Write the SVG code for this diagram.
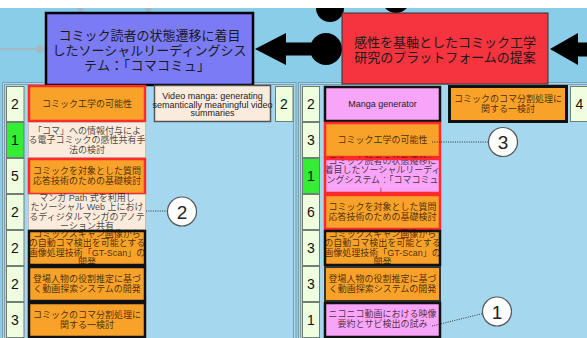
<svg xmlns="http://www.w3.org/2000/svg" width="587" height="338" viewBox="0 0 587 338">
<defs>
<style>
.ttl{font-family:"Noto Sans CJK JP",sans-serif;font-size:13px;fill:#1a1a1a;text-anchor:middle;dominant-baseline:central}
.ct{font-family:"Liberation Sans","Noto Sans CJK JP",sans-serif;font-size:9px;fill:#000;fill-opacity:.72;text-anchor:middle;dominant-baseline:central}
.lt{font-family:"Liberation Sans",sans-serif;font-size:9px;fill:#222;text-anchor:middle;dominant-baseline:central}
.num{font-family:"Liberation Sans",sans-serif;font-size:14px;fill:#111;text-anchor:middle;dominant-baseline:central}
.nc{fill:#effedf;stroke:#6f7f77;stroke-width:1}
.ng{fill:#33ee33;stroke:#6f7f77;stroke-width:1}
.or{fill:#f8a22a}
.pk{fill:#f8a4f8}
.bg{fill:#faebdc;stroke:#c9bfb5;stroke-width:1}
.rb{stroke:#ff2a2a;stroke-width:2.5}
.kb{stroke:#111;stroke-width:2.5}
.db{stroke:#333;stroke-width:2}
.panel{fill:#a5d7ee;stroke:#7d9fb0;stroke-width:1}
.co circle{fill:#fff;stroke:#555;stroke-width:1.2}
.co text{font-family:"Liberation Sans",sans-serif;font-size:19px;fill:#222;text-anchor:middle;dominant-baseline:central}
.dot{stroke:#333;stroke-width:1;stroke-dasharray:1 1.3;fill:none}
</style>
<clipPath id="top"><rect x="0" y="8" width="587" height="330"/></clipPath>
</defs>
<rect x="0" y="0" width="587" height="338" fill="#fff"/>
<rect x="0" y="8" width="587" height="330" fill="#89cde9"/>

<!-- panels -->
<g id="panel-left">
<rect class="panel" x="2.5" y="82.5" width="293.5" height="262"/>
<rect class="panel" x="4.5" y="84.5" width="289" height="260" fill="none"/>
</g>
<g id="panel-right">
<rect class="panel" x="298.5" y="82.5" width="300" height="262"/>
<rect class="panel" x="300.5" y="84.5" width="300" height="260" fill="none"/>
</g>

<!-- connectors -->
<g id="connectors">
<g clip-path="url(#top)">
<circle cx="330" cy="8" r="14" fill="#000"/>
<circle cx="396" cy="-1" r="14" fill="#000"/>
<path d="M77 8 h7 l-2 4 h-3 z M145 8 h7 l-2 4 h-3 z" fill="#9fb5c0"/>
</g>
<line x1="0" y1="49" x2="40" y2="49" stroke="#a3b8c2" stroke-width="2"/>
<circle cx="40" cy="49" r="4" fill="#a3b8c2"/>
<circle cx="326" cy="49" r="16" fill="#000"/>
<rect x="283" y="42.5" width="45" height="13" fill="#000"/>
<polygon points="255,49 286,33 286,65" fill="#000"/>
<rect x="575" y="42.5" width="14" height="14" fill="#000"/>
<polygon points="550,49 578,33 578,65" fill="#000"/>
</g>

<g id="node-komacomu">
<rect x="46" y="13" width="207" height="72" fill="#7b7bf6" stroke="#000" stroke-width="2.5"/>
<text class="ttl" x="149.5" y="34.5">コミック読者の状態遷移に着目</text>
<text class="ttl" x="149.5" y="49.5">したソーシャルリーディングシス</text>
<text class="ttl" x="147" y="64.5" textLength="126" lengthAdjust="spacing">テム：「コマコミュ」</text>
</g>
<g id="node-platform">
<rect x="342" y="13" width="206" height="71" fill="#f5343f" stroke="#333" stroke-width="1"/>
<text class="ttl" x="445" y="41">感性を基軸としたコミック工学</text>
<text class="ttl" x="445" y="56">研究のプラットフォームの提案</text>
</g>

<!-- left panel rows -->
<g id="L-count"><rect class="nc" x="6.5" y="86.5" width="17.5" height="35"/><text class="num" x="15" y="104">2</text>
<rect class="ng" x="6.5" y="122.5" width="17.5" height="35"/><text class="num" x="15" y="140">1</text>
<rect class="nc" x="6.5" y="158.5" width="17.5" height="35"/><text class="num" x="15" y="176">5</text>
<rect class="nc" x="6.5" y="194.5" width="17.5" height="35"/><text class="num" x="15" y="212">2</text>
<rect class="nc" x="6.5" y="230.5" width="17.5" height="35"/><text class="num" x="15" y="248">2</text>
<rect class="nc" x="6.5" y="266.5" width="17.5" height="35"/><text class="num" x="15" y="284">2</text>
<rect class="nc" x="6.5" y="302.5" width="17.5" height="35"/><text class="num" x="15" y="320">3</text></g>

<g id="L1"><rect class="or rb" x="29" y="86" width="116" height="35"/><text class="ct" x="87" y="104">コミック工学の可能性</text></g>
<g id="L2"><rect class="bg" x="28.5" y="122.5" width="117" height="35"/>
<text class="ct" x="87" y="130.5">「コマ」への情報付与によ</text><text class="ct" x="87" y="140.3">る電子コミックの感性共有手</text><text class="ct" x="87" y="150">法の検討</text></g>
<g id="L3"><rect class="or rb" x="29" y="159" width="116" height="35"/>
<text class="ct" x="87" y="171">コミックを対象とした質問</text><text class="ct" x="87" y="180.5">応答技術のための基礎検討</text></g>
<g id="L4"><rect class="bg" x="28.5" y="194.5" width="117" height="35"/>
<text class="ct" x="87" y="197.5">マンガ Path 式を利用し</text><text class="ct" x="87" y="207">たソーシャル Web 上におけ</text><text class="ct" x="87" y="216.5">るディジタルマンガのアノテ</text><text class="ct" x="87" y="226">ーション共有</text></g>
<g id="L5"><rect class="or" x="29" y="231" width="116" height="34"/>
<text class="ct" x="87" y="233.5">コミックスキャン画像から</text><text class="ct" x="87" y="243">の自動コマ検出を可能とする</text><text class="ct" x="87" y="252.5">画像処理技術「GT-Scan」の</text><text class="ct" x="87" y="262">開発</text>
<rect class="kb" fill="none" x="29" y="231" width="116" height="34"/></g>
<g id="L6"><rect class="or kb" x="29" y="267" width="116" height="34"/>
<text class="ct" x="87" y="279">登場人物の役割推定に基づ</text><text class="ct" x="87" y="288.5">く動画探索システムの開発</text></g>
<g id="L7"><rect class="or kb" x="29" y="303" width="116" height="34"/>
<text class="ct" x="87" y="314.5">コミックのコマ分割処理に</text><text class="ct" x="87" y="324.5">関する一検討</text></g>

<g id="L-videomanga"><rect x="154.5" y="85.5" width="116" height="36" fill="#faebdc" stroke="#555" stroke-width="1.5"/>
<text class="lt" x="212.5" y="96">Video manga: generating</text><text class="lt" x="212.5" y="104.5">semantically meaningful video</text><text class="lt" x="212.5" y="113">summaries</text>
<rect class="nc" x="275.5" y="86.5" width="17.5" height="35"/><text class="num" x="284" y="104">2</text></g>

<!-- right panel rows -->
<g id="R-count"><rect class="nc" x="302.5" y="86.5" width="17" height="35"/><text class="num" x="311" y="104">2</text>
<rect class="nc" x="302.5" y="122.5" width="17" height="35"/><text class="num" x="311" y="140">3</text>
<rect class="ng" x="302.5" y="158.5" width="17" height="35"/><text class="num" x="311" y="176">1</text>
<rect class="nc" x="302.5" y="194.5" width="17" height="35"/><text class="num" x="311" y="212">6</text>
<rect class="nc" x="302.5" y="230.5" width="17" height="35"/><text class="num" x="311" y="248">3</text>
<rect class="nc" x="302.5" y="266.5" width="17" height="35"/><text class="num" x="311" y="284">3</text>
<rect class="nc" x="302.5" y="302.5" width="17" height="35"/><text class="num" x="311" y="320">1</text></g>

<g id="R1"><rect class="pk kb" x="325" y="87" width="115" height="34"/><text class="lt" x="382.5" y="104" font-size="9.5">Manga generator</text></g>
<g id="R2"><rect class="or rb" x="325" y="123" width="115" height="34"/><text class="ct" x="382.5" y="140">コミック工学の可能性</text></g>
<g id="R3"><rect class="pk" x="325" y="159" width="115" height="34"/>
<text class="ct" x="382.5" y="160.5">コミック読者の状態遷移に</text><text class="ct" x="382.5" y="170.2">着目したソーシャルリーディ</text><text class="ct" x="382.5" y="179.8">ングシステム：「コマコミュ</text><text class="ct" x="382.5" y="189.5">」</text>
<rect class="rb" fill="none" x="325" y="159" width="115" height="34"/></g>
<g id="R4"><rect class="or rb" x="325" y="195" width="115" height="34"/>
<text class="ct" x="382.5" y="207">コミックを対象とした質問</text><text class="ct" x="382.5" y="216.5">応答技術のための基礎検討</text></g>
<g id="R5"><rect class="or" x="325" y="231" width="115" height="34"/>
<text class="ct" x="382.5" y="233.5">コミックスキャン画像から</text><text class="ct" x="382.5" y="243">の自動コマ検出を可能とする</text><text class="ct" x="382.5" y="252.5">画像処理技術「GT-Scan」の</text><text class="ct" x="382.5" y="262">開発</text>
<rect class="kb" fill="none" x="325" y="231" width="115" height="34"/></g>
<g id="R6"><rect class="or db" x="325" y="267" width="115" height="34"/>
<text class="ct" x="382.5" y="279">登場人物の役割推定に基づ</text><text class="ct" x="382.5" y="288.5">く動画探索システムの開発</text></g>
<g id="R7"><rect class="pk kb" x="325" y="303" width="115" height="34"/>
<text class="ct" x="382.5" y="313.5">ニコニコ動画における映像</text><text class="ct" x="382.5" y="323.5">要約とサビ検出の試み</text></g>

<g id="R-komawari"><rect class="or" x="449.5" y="86.5" width="117" height="35" stroke="#111" stroke-width="3"/>
<text class="ct" x="508" y="98.5">コミックのコマ分割処理に</text><text class="ct" x="508" y="108.5">関する一検討</text>
<rect class="nc" x="570.5" y="86.5" width="20" height="35"/><text class="num" x="579.5" y="104">4</text></g>

<!-- callouts -->
<g id="callout-2" class="co"><line class="dot" x1="146" y1="211" x2="168" y2="211"/><circle cx="182" cy="211.5" r="14.5"/><text x="182" y="212">2</text></g>
<g id="callout-3" class="co"><line class="dot" x1="432" y1="142" x2="489" y2="142"/><circle cx="503" cy="142" r="14.5"/><text x="503" y="142.5">3</text></g>
<g id="callout-1" class="co"><line class="dot" x1="432" y1="326" x2="483" y2="313.5"/><circle cx="497" cy="311.5" r="14.5"/><text x="497" y="312">1</text></g>
</svg>
